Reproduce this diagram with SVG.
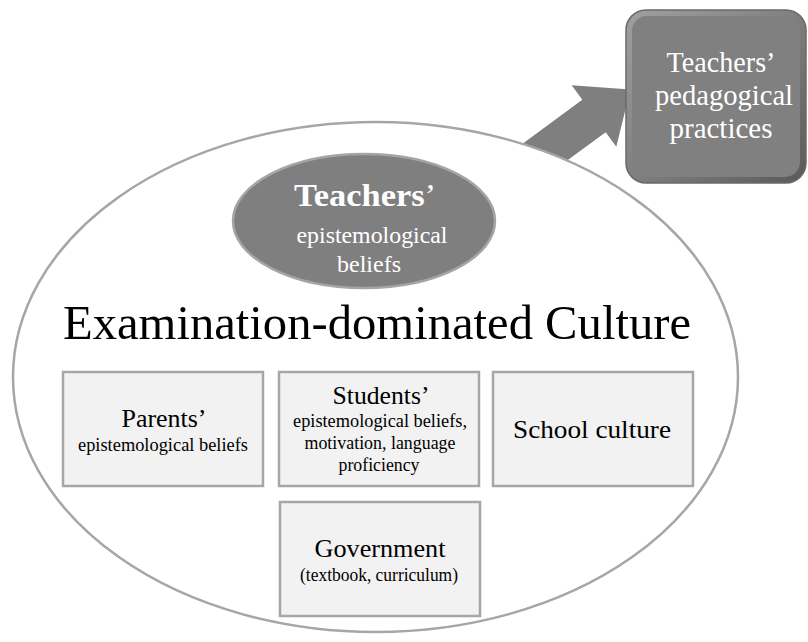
<svg xmlns="http://www.w3.org/2000/svg" width="808" height="642" viewBox="0 0 808 642" font-family="'Liberation Serif', 'Times New Roman', serif">
<style>
text{font-family:'Liberation Serif','Times New Roman',serif;text-anchor:middle}
.box{fill:#f2f2f2;stroke:#a6a6a6;stroke-width:2.5}
.big{font-size:26px;fill:#000}
.small{font-size:18px;fill:#000}
.w{fill:#fff}
</style>
<defs>
<linearGradient id="bev" x1="0" y1="0" x2="1" y2="1">
<stop offset="0" stop-color="#a0a0a0"/>
<stop offset="0.5" stop-color="#7f7f7f"/>
<stop offset="1" stop-color="#5a5a5a"/>
</linearGradient>
</defs>
<g id="connectors">
<polygon points="512,151.4 582.3,99.8 571.7,85.3 630.4,89.6 616.3,146.7 605.7,132.2 535.4,183.8" fill="#7f7f7f"/>
</g>
<g id="culture">
<ellipse cx="375.5" cy="377" rx="362.5" ry="255" fill="#fff" stroke="#a6a6a6" stroke-width="2.5"/>
<text x="377" y="339" font-size="48" fill="#000" textLength="628" lengthAdjust="spacingAndGlyphs">Examination-dominated Culture</text>
</g>
<g id="practices">
<rect x="626" y="10" width="180" height="173" rx="20" fill="url(#bev)" stroke="#6a6a6a" stroke-width="1.5"/>
<rect x="632" y="16" width="168" height="161" rx="15" fill="#808080"/>
<text class="w" x="721" y="72" font-size="28.5" textLength="109" lengthAdjust="spacingAndGlyphs">Teachers’</text>
<text class="w" x="724" y="105" font-size="28.5" textLength="138" lengthAdjust="spacingAndGlyphs">pedagogical</text>
<text class="w" x="721" y="138" font-size="28.5" textLength="103" lengthAdjust="spacingAndGlyphs">practices</text>
</g>
<g id="teachers-beliefs">
<ellipse cx="364" cy="221" rx="131" ry="67" fill="#7f7f7f" stroke="#a5a5a5" stroke-width="2.5"/>
<text class="w" x="365" y="206" font-size="32" textLength="142" lengthAdjust="spacingAndGlyphs"><tspan font-weight="bold">Teachers</tspan>’</text>
<text class="w" x="372" y="243" font-size="24" textLength="151" lengthAdjust="spacingAndGlyphs">epistemological</text>
<text class="w" x="369" y="272" font-size="24" textLength="64" lengthAdjust="spacingAndGlyphs">beliefs</text>
</g>
<g id="parents">
<rect class="box" x="63" y="372" width="200" height="114"/>
<text class="big" x="164" y="427" textLength="85" lengthAdjust="spacingAndGlyphs">Parents’</text>
<text class="small" x="163" y="451" textLength="170" lengthAdjust="spacingAndGlyphs">epistemological beliefs</text>
</g>
<g id="students">
<rect class="box" x="279" y="372" width="200" height="114"/>
<text class="big" x="381" y="404" textLength="97" lengthAdjust="spacingAndGlyphs">Students’</text>
<text class="small" x="380" y="427" textLength="174" lengthAdjust="spacingAndGlyphs">epistemological beliefs,</text>
<text class="small" x="380" y="449" textLength="151" lengthAdjust="spacingAndGlyphs">motivation, language</text>
<text class="small" x="379" y="471" textLength="81" lengthAdjust="spacingAndGlyphs">proficiency</text>
</g>
<g id="school">
<rect class="box" x="493" y="372" width="200" height="114"/>
<text class="big" x="592" y="438" textLength="158" lengthAdjust="spacingAndGlyphs">School culture</text>
</g>
<g id="government">
<rect class="box" x="280" y="502" width="200" height="114"/>
<text class="big" x="380" y="557" textLength="131" lengthAdjust="spacingAndGlyphs">Government</text>
<text class="small" x="379" y="581" textLength="158" lengthAdjust="spacingAndGlyphs">(textbook, curriculum)</text>
</g>
</svg>
